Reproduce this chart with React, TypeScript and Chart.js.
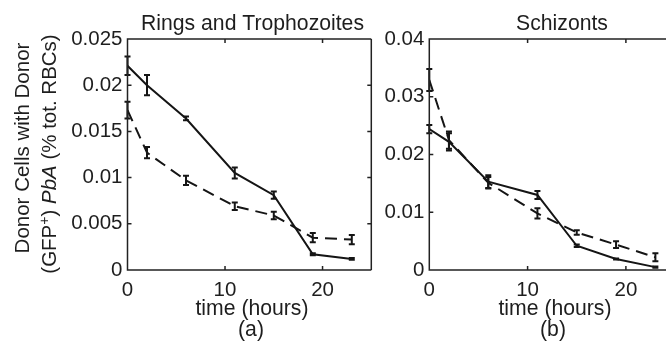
import React, { useEffect, useRef } from "react";
import { Chart, registerables } from "chart.js";
Chart.register(...registerables);

// ---- data ----
const timeHours = [0, 2, 6, 11, 15, 19, 23];
const ringsSolid = [0.0221, 0.02, 0.0164, 0.0105, 0.0081, 0.0017, 0.0012];
const ringsSolidErr = [0.001, 0.0011, 0.0002, 0.0006, 0.0004, 0.0001, 0.0001];
const ringsDashed = [0.0173, 0.0127, 0.0097, 0.0069, 0.0059, 0.0035, 0.0033];
const ringsDashedErr = [0.0009, 0.0006, 0.0005, 0.0004, 0.0004, 0.0005, 0.0005];
const schizSolid = [0.0244, 0.0222, 0.0153, 0.013, 0.0042, 0.0019, 0.0005];
const schizSolidErr = [0.0007, 0.0015, 0.0011, 0.0007, 0.0002, 0.0001, 0.0001];
const schizDashed = [0.0329, 0.0225, 0.0151, 0.0098, 0.0065, 0.0044, 0.0022];
const schizDashedErr = [0.0019, 0.0015, 0.001, 0.0009, 0.0004, 0.0006, 0.0007];
const xTickValues = [0, 10, 20];
const yTicksRings = [0, 0.005, 0.01, 0.015, 0.02, 0.025];
const yTicksSchiz = [0, 0.01, 0.02, 0.03, 0.04];

const FF = '"Liberation Sans", Arial, Helvetica, sans-serif';
const FS = 20.5;
const FT = 21.2;
const TEXT = "#1e1e1e";
const LINE = "#151515";

const toPts = (vals: number[]) => timeHours.map((t, i) => ({ x: t, y: vals[i] }));

const errorBarPlugin = {
  id: "errbars",
  afterDatasetsDraw(chart: any) {
    const ctx = chart.ctx;
    const ys = chart.scales.y;
    chart.data.datasets.forEach((ds: any, i: number) => {
      const meta = chart.getDatasetMeta(i);
      meta.data.forEach((pt: any, j: number) => {
        const v = ds.data[j].y;
        const e = ds.errors[j];
        const yt = ys.getPixelForValue(v + e);
        const yb = ys.getPixelForValue(v - e);
        ctx.save();
        ctx.strokeStyle = LINE;
        ctx.lineWidth = 2;
        ctx.setLineDash([]);
        ctx.beginPath();
        ctx.moveTo(pt.x, yt);
        ctx.lineTo(pt.x, yb);
        ctx.moveTo(pt.x - 3, yt);
        ctx.lineTo(pt.x + 3, yt);
        ctx.moveTo(pt.x - 3, yb);
        ctx.lineTo(pt.x + 3, yb);
        ctx.stroke();
        ctx.restore();
      });
    });
  },
};

function makeFramePlugin(yTicks: number[], drawRight: boolean) {
  return {
    id: "frame",
    afterDraw(chart: any) {
      const { ctx, chartArea: a } = chart;
      const xs = chart.scales.x;
      const ys = chart.scales.y;
      ctx.save();
      ctx.strokeStyle = "#222";
      ctx.lineWidth = 1.5;
      ctx.setLineDash([]);
      ctx.beginPath();
      ctx.moveTo(a.right + (drawRight ? 0 : 5), a.top);
      ctx.lineTo(a.left, a.top);
      ctx.lineTo(a.left, a.bottom);
      ctx.lineTo(a.right + (drawRight ? 0 : 5), a.bottom);
      if (drawRight) {
        ctx.moveTo(a.right, a.top);
        ctx.lineTo(a.right, a.bottom);
      }
      const tl = 4;
      xTickValues.forEach((v) => {
        const px = xs.getPixelForValue(v);
        ctx.moveTo(px, a.bottom);
        ctx.lineTo(px, a.bottom - tl);
        ctx.moveTo(px, a.top);
        ctx.lineTo(px, a.top + tl);
      });
      yTicks.forEach((v) => {
        const py = ys.getPixelForValue(v);
        ctx.moveTo(a.left, py);
        ctx.lineTo(a.left + tl, py);
        if (drawRight) {
          ctx.moveTo(a.right, py);
          ctx.lineTo(a.right - tl, py);
        }
      });
      ctx.stroke();
      ctx.restore();
    },
  };
}

function centered(ctx: any, s: string, x: number, y: number) {
  ctx.textAlign = "center";
  ctx.textBaseline = "alphabetic";
  ctx.fillText(s, x, y);
}

function buildConfig(p: any) {
  const font = { family: FF, size: FS };
  return {
    type: "line",
    data: {
      datasets: [
        {
          data: toPts(p.solid),
          errors: p.solidErr,
          borderColor: LINE,
          borderWidth: 2,
          pointRadius: 0,
          fill: false,
          tension: 0,
        },
        {
          data: toPts(p.dashed),
          errors: p.dashedErr,
          borderColor: LINE,
          borderWidth: 2,
          borderDash: [12, 7],
          pointRadius: 0,
          fill: false,
          tension: 0,
        },
      ],
    },
    options: {
      animation: false,
      responsive: false,
      events: [],
      layout: { padding: { left: 0, right: p.padRight, top: 39, bottom: 0 } },
      plugins: {
        legend: { display: false },
        tooltip: { enabled: false },
        title: { display: false },
      },
      scales: {
        x: {
          type: "linear",
          min: 0,
          max: p.xMax,
          grid: { display: false, drawTicks: false },
          border: { display: false },
          ticks: {
            font,
            color: TEXT,
            padding: 8,
            maxRotation: 0,
            autoSkip: false,
            callback: (v: any) => String(v),
          },
          afterBuildTicks: (s: any) => {
            s.ticks = xTickValues.map((v) => ({ value: v }));
          },
          afterFit: (s: any) => {
            s.height = 71;
          },
        },
        y: {
          type: "linear",
          min: 0,
          max: p.yMax,
          grid: { display: false, drawTicks: false },
          border: { display: false },
          ticks: {
            font,
            color: TEXT,
            padding: 5,
            autoSkip: false,
            callback: (v: any) => String(v),
          },
          afterBuildTicks: (s: any) => {
            s.ticks = p.yTicks.map((v: number) => ({ value: v }));
          },
          afterFit: (s: any) => {
            s.width = p.yWidth;
          },
        },
      },
    },
    plugins: [
      errorBarPlugin,
      makeFramePlugin(p.yTicks, p.drawRight),
      { id: "txt", afterDraw: (chart: any) => p.drawText(chart.ctx) },
    ],
  };
}

function drawLeftText(ctx: any) {
  ctx.save();
  ctx.fillStyle = TEXT;
  ctx.font = `${FT}px ${FF}`;
  centered(ctx, "Rings and Trophozoites", 252.5, 29.5);
  centered(ctx, "time (hours)", 252, 314.5);
  centered(ctx, "(a)", 251, 336);
  // y title line 1
  ctx.font = `${FS}px ${FF}`;
  ctx.save();
  ctx.translate(28.5, 148);
  ctx.rotate(-Math.PI / 2);
  centered(ctx, "Donor Cells with Donor", 0, 0);
  ctx.restore();
  // y title line 2 with superscript and italic
  const segs = [
    { t: "(GFP", f: `${FS}px ${FF}`, dy: 0 },
    { t: "+", f: `14px ${FF}`, dy: -7 },
    { t: ") ", f: `${FS}px ${FF}`, dy: 0 },
    { t: "PbA", f: `italic ${FS}px ${FF}`, dy: 0 },
    { t: " (% tot. RBCs)", f: `${FS}px ${FF}`, dy: 0 },
  ];
  let total = 0;
  const widths = segs.map((s) => {
    ctx.font = s.f;
    const w = ctx.measureText(s.t).width;
    total += w;
    return w;
  });
  ctx.save();
  ctx.translate(55.5, 154);
  ctx.rotate(-Math.PI / 2);
  ctx.textAlign = "left";
  ctx.textBaseline = "alphabetic";
  let x = -total / 2;
  segs.forEach((s, i) => {
    ctx.font = s.f;
    ctx.fillText(s.t, x, s.dy);
    x += widths[i];
  });
  ctx.restore();
  ctx.restore();
}

function drawRightText(ctx: any) {
  ctx.save();
  ctx.fillStyle = TEXT;
  ctx.font = `${FT}px ${FF}`;
  centered(ctx, "Schizonts", 187, 29.5);
  centered(ctx, "time (hours)", 180, 314.5);
  centered(ctx, "(b)", 178, 336);
  ctx.restore();
}

function Panel(props: any) {
  const ref = useRef<HTMLCanvasElement>(null);
  useEffect(() => {
    const chart = new Chart(ref.current as any, buildConfig(props.cfg) as any);
    return () => chart.destroy();
  }, []);
  return (
    <canvas
      ref={ref}
      width={props.w}
      height={341}
      style={{ position: "absolute", left: props.left, top: 0, width: props.w, height: 341 }}
    />
  );
}

export default function App() {
  const leftCfg = {
    solid: ringsSolid,
    solidErr: ringsSolidErr,
    dashed: ringsDashed,
    dashedErr: ringsDashedErr,
    yTicks: yTicksRings,
    yMax: 0.025,
    xMax: 25,
    yWidth: 127.5,
    padRight: 375 - 371.3,
    drawRight: true,
    drawText: drawLeftText,
  };
  const rightCfg = {
    solid: schizSolid,
    solidErr: schizSolidErr,
    dashed: schizDashed,
    dashedErr: schizDashedErr,
    yTicks: yTicksSchiz,
    yMax: 0.04,
    xMax: 24.08,
    yWidth: 54.3,
    padRight: 0,
    drawRight: false,
    drawText: drawRightText,
  };
  return (
    <div style={{ position: "absolute", left: 0, top: 0, width: 666, height: 341, background: "#fff", overflow: "hidden" }}>
      <Panel cfg={leftCfg} left={0} w={375} />
      <Panel cfg={rightCfg} left={375} w={291} />
    </div>
  );
}
